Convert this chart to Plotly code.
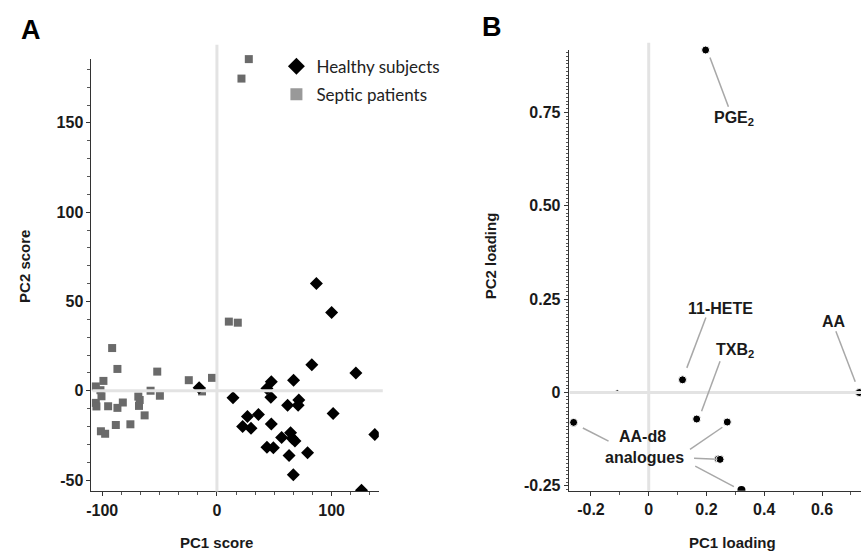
import plotly.graph_objects as go

# ---------------- Panel A data (PC scores) ----------------
healthy_x = [86.7, 100.0, 82.7, 121.1, 66.8, 47.4, 43.6, 14.0, 47.0, 71.4, 70.8, 61.6,
             101.3, 36.2, 26.6, 22.4, 29.7, 47.4, 56.4, 64.2, 65.6, 68.0, 43.6, 49.2,
             62.9, 79.0, 66.6, 137.6, 126.0, -15.5]
healthy_y = [60.0, 43.8, 14.5, 9.9, 5.9, 5.0, 1.3, -3.9, -3.6, -5.2, -8.2, -8.1,
             -12.7, -13.3, -14.5, -20.1, -21.0, -18.6, -26.2, -23.6, -26.6, -28.2, -31.7, -31.9,
             -36.3, -34.8, -47.0, -24.5, -55.8, 1.6]

septic_x = [-105.5, -98.9, -91.3, -86.7, -52.0, -24.5, -4.3, 10.4, 18.2, 21.4, 27.8,
            -100.6, -105.5, -105.0, -94.8, -86.7, -82.0, -68.5, -67.3, -67.9, -63.0,
            -49.7, -75.4, -88.1, -101.1, -97.4, -57.8, -13.0, -101.5]
septic_y = [2.4, 5.5, 23.9, 12.2, 10.7, 5.9, 7.2, 38.7, 38.1, 174.8, 185.7,
            -3.1, -6.8, -8.8, -8.7, -9.6, -6.6, -3.3, -5.2, -8.5, -13.8,
            -2.8, -18.8, -19.2, -22.7, -24.1, 0.0, -0.4, 0.3]

a_xticks = [-100, 0, 100]
a_yticks = [-50, 0, 50, 100, 150]

# ---------------- Panel B data (PC loadings) ----------------
load_x = [0.197, 0.117, 0.166, 0.729, -0.260, 0.272, 0.241, 0.247, 0.321, -0.109]
load_y = [0.917, 0.034, -0.071, 0.000, -0.080, -0.079, -0.178, -0.179, -0.261, 0.002]

b_xticks = [-0.2, 0, 0.2, 0.4, 0.6]
b_xticktext = ["-0.2", "0", "0.2", "0.4", "0.6"]
b_yticks = [-0.25, 0, 0.25, 0.5, 0.75]
b_yticktext = ["-0.25", "0", "0.25", "0.50", "0.75"]

# label text and placement (data coords of panel B)
b_labels = ["PGE<sub>2</sub>", "11-HETE", "TXB<sub>2</sub>", "AA", "AA-d8", "analogues"]
b_label_x = [0.295, 0.249, 0.298, 0.643, -0.021, -0.014]
b_label_y = [0.734, 0.225, 0.112, 0.190, -0.119, -0.174]
# leader lines: (start near label) -> (end near point)
leader_x0 = [0.212, 0.198, 0.247, 0.648, -0.228, 0.143, 0.157, 0.161]
leader_y0 = [0.897, 0.201, 0.084, 0.164, -0.095, -0.152, -0.176, -0.197]
leader_x1 = [0.276, 0.132, 0.183, 0.715, -0.139, 0.255, 0.238, 0.295]
leader_y1 = [0.765, 0.066, -0.050, 0.029, -0.130, -0.093, -0.179, -0.252]

W, H = 861, 556
A_dom_x = [87 / W, 376 / W]
A_dom_y = [(H - 495) / H, (H - 59) / H]
B_dom_x = [567 / W, 1.0]
B_dom_y = [(H - 494.3) / H, (H - 50) / H]

FAM = "Arial, Liberation Sans"
TICKFONT = dict(family=FAM, size=16, color="#1a1a1a")
TITLEFONT = dict(family=FAM, size=15, color="#1a1a1a")
ZL = "#e3e3e3"


def bold(vals):
    return ["<b>%s</b>" % v for v in vals]


fig = go.Figure()

# Panel A traces
fig.add_trace(go.Scatter(x=septic_x, y=septic_y, mode="markers", xaxis="x", yaxis="y",
                         marker=dict(symbol="square", size=8, color="#6a6a6a"),
                         cliponaxis=False, showlegend=False))
fig.add_trace(go.Scatter(x=healthy_x, y=healthy_y, mode="markers", xaxis="x", yaxis="y",
                         marker=dict(symbol="diamond", size=10, color="#000000"),
                         showlegend=False))
# legend entries
fig.add_trace(go.Scatter(x=[None], y=[None], mode="markers", name="Healthy subjects",
                         legendgroup="h", xaxis="x", yaxis="y",
                         marker=dict(symbol="diamond", size=13, color="#000000")))
fig.add_trace(go.Scatter(x=[None], y=[None], mode="markers", name="Septic patients",
                         legendgroup="s", xaxis="x", yaxis="y",
                         marker=dict(symbol="square", size=12, color="#999999")))

# Panel B traces (points at the lower edge are clipped by the axis as in the original)
inner = [i for i, y in enumerate(load_y) if y > -0.25]
edge = [i for i, y in enumerate(load_y) if y <= -0.25]
sizes = [4 if abs(load_y[i]) < 0.005 and load_x[i] < 0 else 8 for i in range(len(load_x))]
fig.add_trace(go.Scatter(x=[load_x[i] for i in inner], y=[load_y[i] for i in inner],
                         mode="markers", xaxis="x2", yaxis="y2", cliponaxis=False,
                         marker=dict(symbol="circle", size=[sizes[i] for i in inner],
                                     color="#000000", opacity=1),
                         showlegend=False))
fig.add_trace(go.Scatter(x=[load_x[i] for i in edge], y=[load_y[i] for i in edge],
                         mode="markers", xaxis="x2", yaxis="y2", cliponaxis=True,
                         marker=dict(symbol="circle", size=8, color="#000000"),
                         showlegend=False))

common_axis = dict(showgrid=False, zeroline=False, showline=True, linecolor="#333333",
                   linewidth=1, ticks="outside", ticklen=4, tickcolor="#333333",
                   tickfont=TICKFONT)

fig.update_layout(
    width=W, height=H,
    margin=dict(l=0, r=0, t=0, b=0),
    paper_bgcolor="white", plot_bgcolor="white",
    xaxis=dict(domain=A_dom_x, range=[-109.3, 141.1], tickvals=a_xticks,
               ticktext=bold(a_xticks), anchor="y",
               minor=dict(dtick=100 / 6, tick0=0, ticklen=3, ticks="outside", tickcolor="#555"),
               **common_axis),
    yaxis=dict(domain=A_dom_y, range=[-56.4, 186.0], tickvals=a_yticks,
               ticktext=bold(a_yticks), anchor="x",
               minor=dict(dtick=10, tick0=0, ticklen=3, ticks="outside", tickcolor="#555"),
               **common_axis),
    xaxis2=dict(domain=B_dom_x, range=[-0.277, 0.735], tickvals=b_xticks,
                ticktext=bold(b_xticktext), anchor="y2",
                minor=dict(dtick=0.1, tick0=0, ticklen=3, ticks="outside", tickcolor="#555"),
                **common_axis),
    yaxis2=dict(domain=B_dom_y, range=[-0.263, 0.918], tickvals=b_yticks,
                ticktext=bold(b_yticktext), anchor="x2",
                minor=dict(dtick=0.01, tick0=0, ticklen=2, ticks="outside", tickcolor="#555"),
                **common_axis),
    legend=dict(x=273 / W, y=(H - 49) / H, xanchor="left", yanchor="top",
                font=dict(family="Lato, Open Sans", size=17, color="#222"),
                bgcolor="rgba(0,0,0,0)", tracegroupgap=3, itemsizing="trace"),
)

shapes = [
    # Panel A zero lines
    dict(type="line", xref="x", yref="paper", x0=0, x1=0, y0=A_dom_y[0], y1=(H - 45) / H,
         line=dict(color=ZL, width=3), layer="above"),
    dict(type="line", xref="paper", yref="y", x0=A_dom_x[0] + 0.001, x1=380 / W, y0=0, y1=0,
         line=dict(color=ZL, width=3), layer="above"),
    # Panel B zero lines
    dict(type="line", xref="x2", yref="paper", x0=0, x1=0, y0=B_dom_y[0], y1=(H - 43) / H,
         line=dict(color=ZL, width=3), layer="above"),
    dict(type="line", xref="paper", yref="y2", x0=B_dom_x[0] + 0.001, x1=1.0, y0=0, y1=0,
         line=dict(color=ZL, width=3), layer="above"),
]
for x0, y0, x1, y1 in zip(leader_x0, leader_y0, leader_x1, leader_y1):
    shapes.append(dict(type="line", xref="x2", yref="y2", x0=x0, y0=y0, x1=x1, y1=y1,
                       line=dict(color="#a8a8a8", width=1.5)))
fig.update_layout(shapes=shapes)

ann = []
LABELFONT = dict(family=FAM, size=16, color="#1a1a1a")
for t, x, y in zip(b_labels, b_label_x, b_label_y):
    ann.append(dict(text="<b>%s</b>" % t, x=x, y=y, xref="x2", yref="y2", showarrow=False,
                    font=LABELFONT, xanchor="center", yanchor="middle"))
# axis titles
ann += [
    dict(text="<b>PC1 score</b>", x=213 / W, y=(H - 546) / H, xref="paper", yref="paper",
         showarrow=False, font=TITLEFONT, xanchor="center", yanchor="middle"),
    dict(text="<b>PC2 score</b>", x=19 / W, y=(H - 268) / H, xref="paper", yref="paper",
         showarrow=False, font=TITLEFONT, xanchor="center", yanchor="middle", textangle=-90),
    dict(text="<b>PC1 loading</b>", x=732 / W, y=(H - 546) / H, xref="paper", yref="paper",
         showarrow=False, font=TITLEFONT, xanchor="center", yanchor="middle"),
    dict(text="<b>PC2 loading</b>", x=488 / W, y=(H - 258) / H, xref="paper", yref="paper",
         showarrow=False, font=TITLEFONT, xanchor="center", yanchor="middle", textangle=-90),
    # panel letters
    dict(text="<b>A</b>", x=26 / W, y=(H - 30) / H, xref="paper", yref="paper", showarrow=False,
         font=dict(family=FAM, size=27, color="#000"), xanchor="center", yanchor="middle"),
    dict(text="<b>B</b>", x=490 / W, y=(H - 27) / H, xref="paper", yref="paper", showarrow=False,
         font=dict(family=FAM, size=27, color="#000"), xanchor="center", yanchor="middle"),
]
fig.update_layout(annotations=ann)

fig.write_html("out.html", post_script="document.body.style.margin='0';",
               config={"displayModeBar": False})
